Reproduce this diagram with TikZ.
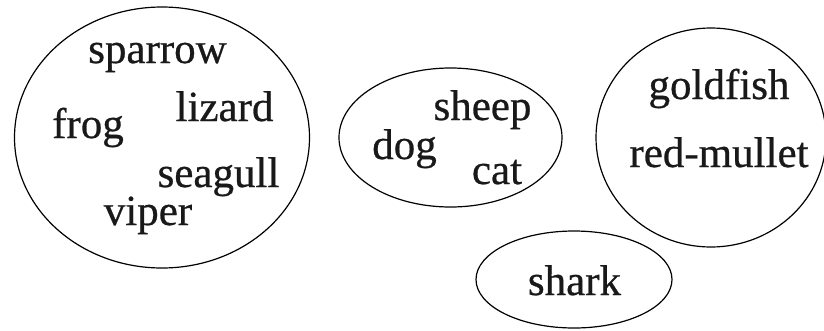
\documentclass[tikz,border=0pt]{standalone}
\usepackage{fontspec}
\setmainfont{Liberation Serif}
\newfontfamily\animalfont[FakeBold=0.6]{Liberation Serif}
\usetikzlibrary{shapes.geometric}
\usetikzlibrary{positioning}

\begin{document}
\begin{tikzpicture}[x=1pt, y=-1pt,
  every node/.style={inner sep=0pt},
  group/.style={ellipse, draw=black, line width=1.2pt},
  animal/.style={anchor=base, text=black!90, font=\animalfont\fontsize{43pt}{43pt}\selectfont}]
\useasboundingbox (0,0) rectangle (824,330);
% the four groups
\node (g1) [group, minimum width=295pt, minimum height=261pt] at (162, 137.5) {};
\node (g2) [group, minimum width=223pt, minimum height=139pt] at (450.5, 137.5) {};
\node (g3) [group, minimum width=230pt, minimum height=219pt] at (711, 137.5) {};
\node (g4) [group, minimum width=196pt, minimum height=97pt] at (574, 279.5) {};
% members of each group
\node (sparrow) [animal] at (157.5, 63) {sparrow};
\node (lizard) [animal] at (224.5, 121) {lizard};
\node (frog) [animal] at (88, 138) {frog};
\node (seagull) [animal] at (218.5, 187) {seagull};
\node (viper) [animal] at (148, 225) {viper};
\node (sheep) [animal] at (482.5, 120) {sheep};
\node (dog) [animal] at (404.5, 159) {dog};
\node (cat) [animal] at (497, 184) {cat};
\node (goldfish) [animal] at (719, 99) {goldfish};
\node (redmullet) [animal] at (719, 167) {red-mullet};
\node (shark) [animal] at (574.5, 295) {shark};
\end{tikzpicture}
\end{document}
